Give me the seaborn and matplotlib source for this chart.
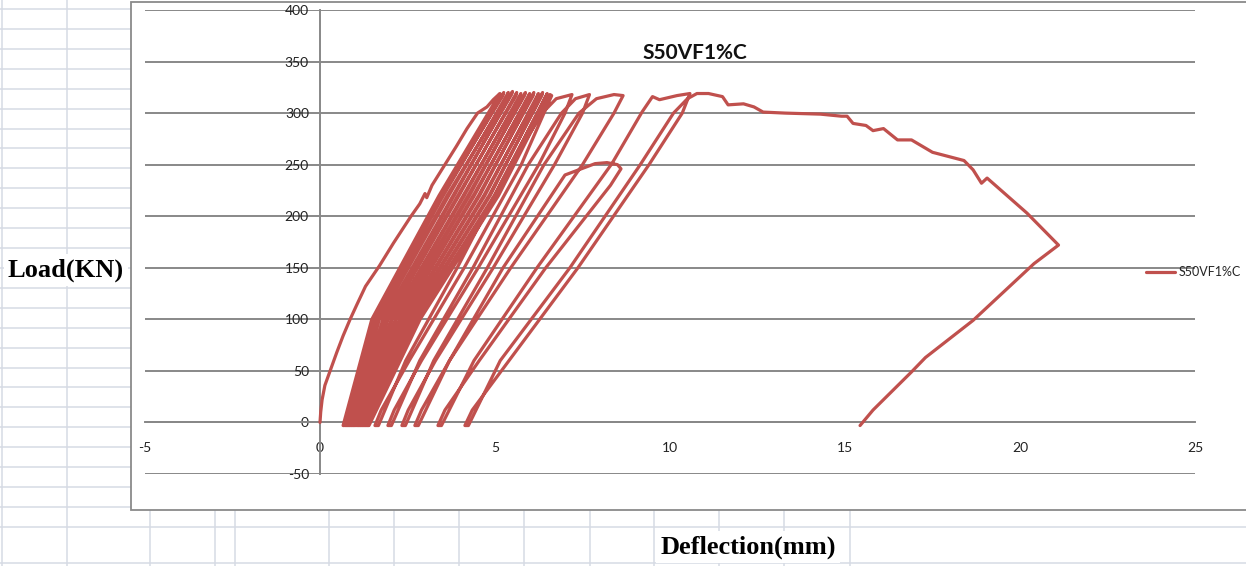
import matplotlib
matplotlib.use("Agg")
import matplotlib.pyplot as plt
import pandas as pd
import seaborn as sns
from matplotlib.patches import Rectangle

# ---------------------------------------------------------------- data
series_name = "S50VF1%C"
chart_title = "S50VF1%C"
x_label = "Deflection(mm)"
y_label = "Load(KN)"
x_ticks = [-5, 0, 5, 10, 15, 20, 25]
y_ticks = [-50, 0, 50, 100, 150, 200, 250, 300, 350, 400]

# first loading branch (mm, kN)
initial_defl = [0.00, 0.02, 0.06, 0.14, 0.29, 0.48, 0.66, 0.86, 1.05, 1.30, 1.70,
                2.10, 2.60, 2.85, 3.00, 3.05, 3.20, 3.57, 3.90, 4.20, 4.50, 4.77,
                4.95, 5.14]
initial_load = [0, 10, 22, 36, 50, 68, 84, 100, 114, 132, 152,
                174, 200, 212, 222, 218, 230, 250, 268, 285, 300, 306,
                313, 319]

# repeated cycles at the peak load (one unload or reload branch per row)
band_defl = [
    3.40, 1.48, 0.66,
    0.70, 1.55, 3.49, 5.22,
    5.25, 3.52, 1.58, 0.72,
    0.77, 1.67, 3.63, 5.35,
    5.38, 3.68, 1.70, 0.78,
    0.84, 1.80, 3.80, 5.47,
    5.50, 3.83, 1.83, 0.85,
    0.90, 1.92, 3.94, 5.60,
    5.62, 3.97, 1.94, 0.91,
    0.96, 2.04, 4.09, 5.72,
    5.74, 4.12, 2.06, 0.97,
    1.02, 2.16, 4.23, 5.84,
    5.87, 4.27, 2.18, 1.04,
    1.09, 2.28, 4.38, 5.97,
    5.99, 4.41, 2.30, 1.10,
    1.15, 2.40, 4.53, 6.09,
    6.11, 4.56, 2.42, 1.16,
    1.22, 2.52, 4.68, 6.22,
    6.24, 4.71, 2.54, 1.23,
    1.28, 2.64, 4.83, 6.34,
    6.36, 4.86, 2.66, 1.29,
    1.35, 2.76, 4.98, 6.47,
    6.49, 5.01, 2.78, 1.36,
    1.40, 2.86, 5.10, 6.57,
]
band_load = [
    220, 100, -3,
    -3, 100, 220, 317,
    320, 220, 100, -3,
    -3, 100, 220, 316,
    320, 220, 100, -3,
    -3, 100, 220, 318,
    321, 220, 100, -3,
    -3, 100, 220, 317,
    320, 220, 100, -3,
    -3, 100, 220, 316,
    319, 220, 100, -3,
    -3, 100, 220, 317,
    320, 220, 100, -3,
    -3, 100, 220, 316,
    319, 220, 100, -3,
    -3, 100, 220, 317,
    320, 220, 100, -3,
    -3, 100, 220, 316,
    319, 220, 100, -3,
    -3, 100, 220, 317,
    320, 220, 100, -3,
    -3, 100, 220, 317,
    319, 220, 100, -3,
    -3, 100, 220, 318,
]

# growing-amplitude cycles up to the maximum load (unload row, then reload row)
outer_defl = [
    6.62, 6.40, 5.75, 4.12, 2.55, 1.75, 1.57,
    1.67, 2.45, 3.92, 5.45, 6.35, 6.75, 7.20,
    7.00, 6.25, 4.52, 2.90, 2.12, 1.94,
    2.04, 2.85, 4.37, 5.95, 6.90, 7.30, 7.70,
    7.50, 6.70, 4.95, 3.30, 2.52, 2.34,
    2.44, 3.25, 4.78, 6.40, 7.40, 7.90, 8.40, 8.66,
    8.40, 7.50, 5.45, 3.70, 2.90, 2.71,
    2.81, 3.70, 5.23, 7.00, 7.86, 8.20, 8.50, 8.60,
    8.30, 6.45, 4.55, 3.57, 3.37,
    3.47, 4.40, 6.20, 8.34, 9.20, 9.50, 9.70, 10.20, 10.57,
    10.35, 9.40, 7.37, 5.40, 4.35, 4.14,
    4.24, 5.15, 7.14, 9.15, 10.10, 10.50, 10.77,
]
outer_load = [
    317, 300, 250, 150, 60, 12, -3,
    -3, 60, 150, 250, 300, 314, 318,
    300, 250, 150, 60, 12, -3,
    -3, 60, 150, 250, 300, 314, 318,
    300, 250, 150, 60, 12, -3,
    -3, 60, 150, 250, 300, 314, 318, 317,
    300, 250, 150, 60, 12, -3,
    -3, 60, 150, 240, 251, 252, 250, 246,
    230, 150, 60, 12, -3,
    -3, 60, 150, 251, 301, 316, 313, 317, 319,
    300, 250, 150, 60, 12, -3,
    -3, 60, 150, 250, 300, 314, 319,
]

# softening branch after the peak and final unloading
post_defl = [11.10, 11.50, 11.66, 12.10, 12.40, 12.66, 13.30, 14.30, 14.90, 15.06,
             15.23, 15.60, 15.80, 16.10, 16.50, 16.90, 17.50, 18.40, 18.66, 18.90,
             19.06, 20.20, 21.10, 20.40, 19.10, 18.66, 17.30, 16.90, 15.80, 15.43]
post_load = [319, 316, 308, 309, 306, 301, 300, 299, 297, 297,
             290, 288, 283, 285, 274, 274, 262, 254, 245, 232,
             237, 203, 172, 154, 113, 99, 63, 49, 12, -3]

# ---------------------------------------------------------------- style
sns.set_theme(style="white")
plt.rcParams["font.family"] = ["Lato", "DejaVu Sans"]
plt.rcParams["axes.unicode_minus"] = False

W, H = 1246, 566
fig = plt.figure(figsize=(W / 100, H / 100), dpi=100)
fig.patch.set_facecolor("white")

# worksheet cells behind the chart object
bg = fig.add_axes([0, 0, 1, 1])
bg.set_xlim(0, W)
bg.set_ylim(H, 0)
bg.axis("off")
cell = "#D6DBE4"
rows = [9 + 19.92 * k for k in range(27)] + [563]
bg.hlines(rows, 0, W, color=cell, lw=1.1, zorder=0)
bg.vlines([2, 67], 0, H, color=cell, lw=1.1, zorder=0)
bg.vlines([150, 215, 235, 329, 394, 459, 524, 590, 654, 719, 784, 850], 510, H,
          color=cell, lw=1.1, zorder=0)
bg.add_patch(Rectangle((131, 2), W + 20 - 131, 508, facecolor="white",
                       edgecolor="#8A8A8A", lw=1.3, zorder=1))

# chart plot area
ax = fig.add_axes([145 / W, 1 - 474 / H, 1050 / W, 464 / H])
ax.patch.set_alpha(0)

line_color = "#C0504D"
df = pd.DataFrame({
    "Deflection": initial_defl + band_defl + outer_defl + post_defl,
    "Load": initial_load + band_load + outer_load + post_load,
})
sns.lineplot(data=df, x="Deflection", y="Load", sort=False, estimator=None,
             color=line_color, lw=2.3, label=series_name, ax=ax, zorder=3)

ax.set_xlim(-5, 25)
ax.set_ylim(-50, 400)
ax.set_xticks(x_ticks)
ax.set_yticks(y_ticks)
ax.set_xlabel("")
ax.set_ylabel("")
grid_c = "#888888"
ax.yaxis.grid(True, color=grid_c, lw=1.4, zorder=1)
ax.xaxis.grid(False)
for side in ("top", "right"):
    ax.spines[side].set_visible(False)
ax.spines["left"].set_position(("data", 0))
ax.spines["bottom"].set_position(("data", 0))
ax.spines["left"].set_color(grid_c)
ax.spines["bottom"].set_color(grid_c)
ax.spines["left"].set_linewidth(1.4)
ax.spines["bottom"].set_linewidth(1.4)
ax.tick_params(axis="y", length=0, pad=8, labelsize=10, labelcolor="#222222")
ax.tick_params(axis="x", length=4, width=1.2, color=grid_c, direction="inout",
               pad=12, labelsize=10, labelcolor="#222222")

ax.legend(loc="center left", bbox_to_anchor=(1146 / W, 1 - 272 / H),
          bbox_transform=fig.transFigure, frameon=False, fontsize=9,
          handlelength=2.3, handletextpad=0.3, borderaxespad=0, borderpad=0)

fig.text(695 / W, 1 - 53 / H, chart_title, ha="center", va="center",
         fontsize=15, fontweight="bold", color="#111111")
fig.text(66 / W, 1 - 270 / H, y_label, ha="center", va="center",
         family="Liberation Serif", fontweight="bold", fontsize=19, color="black",
         bbox=dict(facecolor="white", edgecolor="none", pad=3), zorder=5)
fig.text(748 / W, 1 - 547 / H, x_label, ha="center", va="center",
         family="Liberation Serif", fontweight="bold", fontsize=19, color="black",
         bbox=dict(facecolor="white", edgecolor="none", pad=3), zorder=5)

fig.savefig("out.png", dpi=100, facecolor="white")
